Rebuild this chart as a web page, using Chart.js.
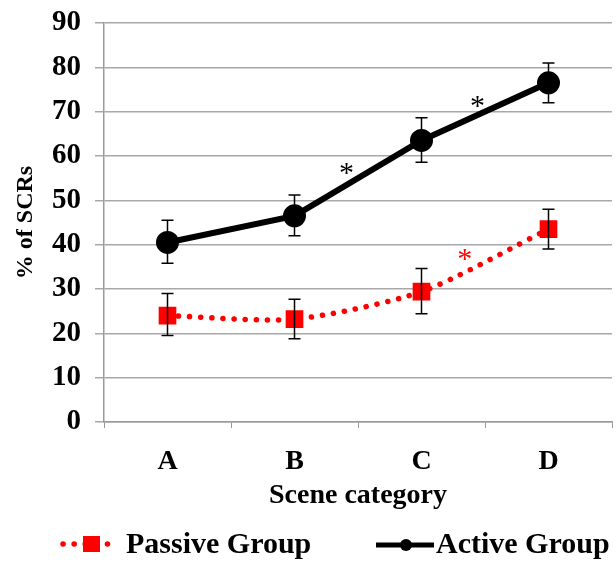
<!DOCTYPE html>
<html>
<head>
<meta charset="utf-8">
<script src="https://cdn.jsdelivr.net/npm/chart.js@4.4.1/dist/chart.umd.min.js"></script>
<style>
  html, body { margin: 0; padding: 0; background: #fff; }
  #wrap { width: 616px; height: 562px; }
</style>
</head>
<body>
<div id="wrap"><canvas id="lineChart"></canvas></div>
<script>
// data
const categories = ['A', 'B', 'C', 'D'];
const activeMean = [40.5, 46.5, 63.5, 76.5];
const activeUpper = [45.5, 51.2, 68.6, 81.0];
const activeLower = [35.8, 42.0, 58.6, 72.0];
const passiveMean = [24.0, 23.2, 29.4, 43.5];
const passiveUpper = [29.0, 27.7, 34.6, 48.0];
const passiveLower = [19.5, 18.8, 24.4, 39.0];
const yTicks = [0, 10, 20, 30, 40, 50, 60, 70, 80, 90];

// significance stars: position in category units + value
const starX = [1.41, 2.44, 2.34];
const starY = [57.6, 72.7, 38.1];
const starColor = ['#000000', '#000000', '#ff0000'];

const serif = "'Liberation Serif', 'DejaVu Serif', serif";

// error bars + stars
const errorBars = {
  id: 'errorBars',
  afterDatasetsDraw(chart) {
    const ctx = chart.ctx;
    const x = chart.scales.x, y = chart.scales.y;
    const sets = [[activeUpper, activeLower], [passiveUpper, passiveLower]];
    ctx.save();
    ctx.strokeStyle = '#000';
    ctx.lineWidth = 1.5;
    sets.forEach(function (s) {
      for (let i = 0; i < categories.length; i++) {
        const px = x.getPixelForValue(i);
        const top = y.getPixelForValue(s[0][i]);
        const bot = y.getPixelForValue(s[1][i]);
        ctx.beginPath();
        ctx.moveTo(px, top); ctx.lineTo(px, bot);
        ctx.moveTo(px - 6, top); ctx.lineTo(px + 6, top);
        ctx.moveTo(px - 6, bot); ctx.lineTo(px + 6, bot);
        ctx.stroke();
      }
    });
    ctx.font = '30px ' + serif;
    ctx.textAlign = 'center';
    ctx.textBaseline = 'middle';
    for (let i = 0; i < starX.length; i++) {
      ctx.fillStyle = starColor[i];
      ctx.fillText('*', x.getPixelForValue(starX[i]), y.getPixelForValue(starY[i]) + 7);
    }
    ctx.restore();
  }
};

// legend drawn by hand (dotted line + marker)
const bottomLegend = {
  id: 'bottomLegend',
  afterDraw(chart) {
    const ctx = chart.ctx;
    const ly = 544;
    ctx.save();
    ctx.strokeStyle = '#ff0000';
    ctx.lineWidth = 5.5;
    ctx.lineCap = 'round';
    ctx.setLineDash([0.1, 11]);
    ctx.beginPath();
    ctx.moveTo(63, ly); ctx.lineTo(118, ly);
    ctx.stroke();
    ctx.setLineDash([]);
    ctx.fillStyle = '#ff0000';
    ctx.fillRect(83, ly - 8, 17, 16);

    ctx.strokeStyle = '#000';
    ctx.lineWidth = 5;
    ctx.lineCap = 'butt';
    ctx.beginPath();
    ctx.moveTo(376, ly + 1); ctx.lineTo(434, ly + 1);
    ctx.stroke();
    ctx.fillStyle = '#000';
    ctx.beginPath();
    ctx.arc(406, ly + 1, 6, 0, Math.PI * 2);
    ctx.fill();

    ctx.font = 'bold 30px ' + serif;
    ctx.textBaseline = 'middle';
    ctx.textAlign = 'left';
    ctx.fillText('Passive Group', 126, ly + 1);
    ctx.fillText('Active Group', 436, ly + 1);
    ctx.restore();
  }
};

new Chart('lineChart', {
  type: 'line',
  data: {
    labels: categories,
    datasets: [
      {
        label: 'Active Group',
        data: activeMean,
        borderColor: '#000',
        backgroundColor: '#000',
        borderWidth: 6,
        pointRadius: 8.5,
        pointHoverRadius: 8.5,
        pointStyle: 'circle',
        tension: 0
      },
      {
        label: 'Passive Group',
        data: passiveMean,
        borderColor: '#ff0000',
        backgroundColor: '#ff0000',
        borderWidth: 5.5,
        borderDash: [0.1, 11],
        borderCapStyle: 'round',
        pointRadius: 12.5,
        pointHoverRadius: 12.5,
        pointStyle: 'rect',
        pointBorderWidth: 0,
        tension: 0.25
      }
    ]
  },
  options: {
    responsive: true,
    maintainAspectRatio: false,
    animation: false,
    layout: { autoPadding: false, padding: { top: 23, right: 4, bottom: 49, left: 0 } },
    plugins: {
      legend: { display: false },
      tooltip: { enabled: false }
    },
    scales: {
      x: {
        offset: true,
        afterFit(scale) { scale.height = 91; scale.paddingLeft = 0; scale.paddingRight = 0; },
        grid: { display: true, drawOnChartArea: false, offset: true, tickLength: 6, color: '#9a9a9a' },
        border: { color: '#9a9a9a', width: 1.5 },
        ticks: { padding: 17, color: '#000', font: { family: serif, size: 28, weight: 'bold' } },
        title: {
          display: true, text: 'Scene category', color: '#000',
          padding: { top: 0, bottom: 0 },
          font: { family: serif, size: 28, weight: 'bold' }
        }
      },
      y: {
        min: 0, max: 90,
        afterFit(scale) { scale.width = 104; scale.paddingTop = 0; scale.paddingBottom = 0; },
        afterBuildTicks(scale) { scale.ticks = yTicks.map(v => ({ value: v })); },
        grid: { color: '#a8a8a8', lineWidth: 1.5, tickLength: 9 },
        border: { color: '#9a9a9a', width: 1.5 },
        ticks: { padding: 14, color: '#000', font: { family: serif, size: 29, weight: 'bold' } },
        title: {
          display: true, text: '% of SCRs', color: '#000',
          padding: { top: 11, bottom: 0 },
          font: { family: serif, size: 24, weight: 'bold' }
        }
      }
    }
  },
  plugins: [errorBars, bottomLegend]
});
</script>
</body>
</html>
